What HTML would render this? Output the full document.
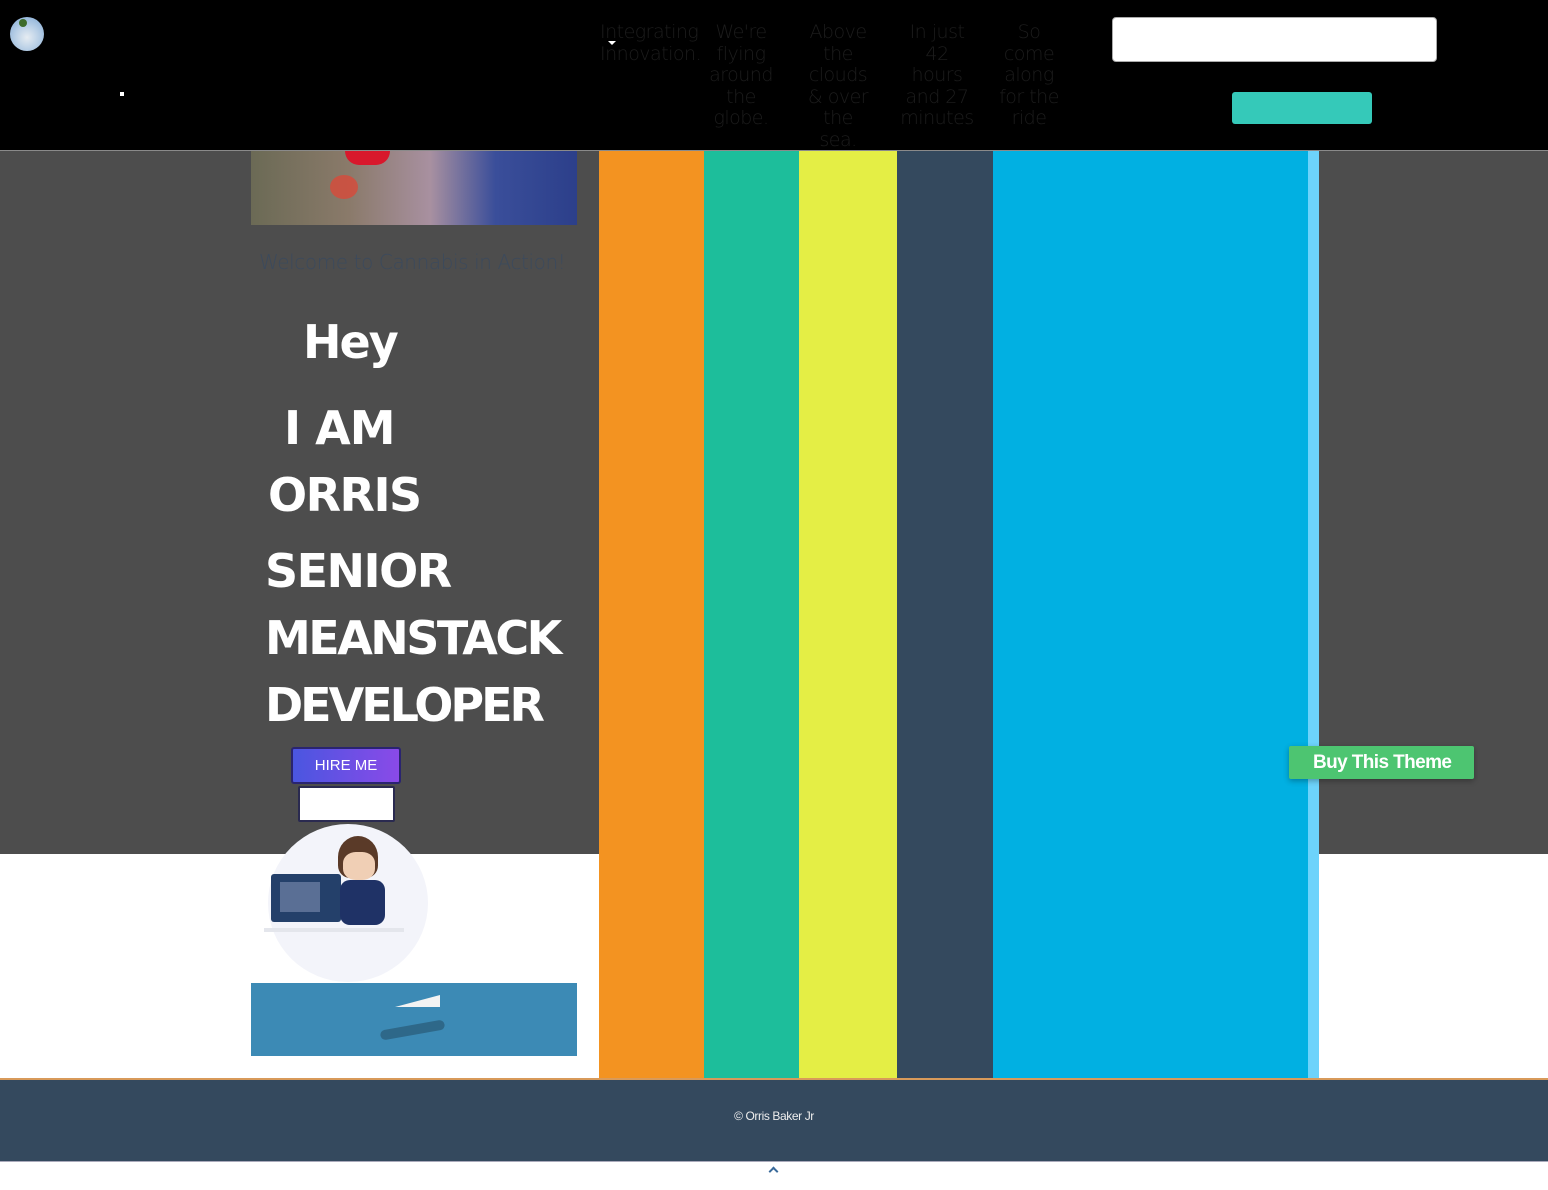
<!DOCTYPE html>
<html><head><meta charset="utf-8"><style>
*{margin:0;padding:0;box-sizing:border-box}
body{width:1548px;height:1190px;position:relative;overflow:hidden;background:#fff;font-family:"Liberation Sans",sans-serif}
.a{position:absolute}
.nav{font-family:"DejaVu Sans","Liberation Sans",sans-serif;font-weight:200;font-size:19px;line-height:21.5px;color:#1c1c1c;text-align:center;letter-spacing:-0.5px}
.big{font-family:"Comic Sans MS","DejaVu Sans","Liberation Sans",sans-serif;font-weight:bold;color:#fff;white-space:nowrap}
</style></head><body>
<div class="a" style="left:0;top:0;width:1548px;height:150px;background:#000"></div>
<div class="a" style="left:0;top:150px;width:1548px;height:1px;background:#8a8a8a"></div>
<div class="a" style="left:10px;top:17px;width:34px;height:34px;border-radius:50%;background:radial-gradient(circle at 50% 60%,#e6ecf2 0,#b8cfe6 45%,#7ea7d3 100%)"></div>
<div class="a" style="left:19px;top:19px;width:8px;height:8px;background:#3d6b2a;border-radius:50%"></div>
<div class="a" style="left:120px;top:92px;width:4px;height:4px;background:#fff"></div>
<div class="a nav" style="left:600px;top:22px;width:108px;text-align:left">Integrating Innovation.</div>
<div class="a" style="left:608px;top:41px;width:0;height:0;border-left:4px solid transparent;border-right:4px solid transparent;border-top:4px solid #fff"></div>
<div class="a nav" style="left:706px;top:22px;width:70px">We're flying around the globe.</div>
<div class="a nav" style="left:802px;top:22px;width:72px">Above the clouds &amp; over the sea.</div>
<div class="a nav" style="left:900px;top:22px;width:74px">In just<br>42<br>hours<br>and 27<br>minutes</div>
<div class="a nav" style="left:994px;top:22px;width:70px">So come along for the ride</div>
<div class="a" style="left:1112px;top:17px;width:325px;height:45px;background:#fff;border-radius:4px;border:1px solid #aaa"></div>
<div class="a" style="left:1232px;top:92px;width:140px;height:32px;background:#35c9b9;border-radius:3px"></div>

<div class="a" style="left:0;top:151px;width:1548px;height:703px;background:#4d4d4d"></div>
<div class="a" style="left:599px;top:151px;width:105px;height:927px;background:#f39321"></div>
<div class="a" style="left:704px;top:151px;width:95px;height:927px;background:#1dbe9b"></div>
<div class="a" style="left:799px;top:151px;width:98px;height:927px;background:#e4ee45"></div>
<div class="a" style="left:897px;top:151px;width:96px;height:927px;background:#34495e"></div>
<div class="a" style="left:993px;top:151px;width:315px;height:927px;background:#01b0e2"></div>
<div class="a" style="left:1308px;top:151px;width:11px;height:927px;background:#6dd3fb"></div>

<div class="a" style="left:251px;top:151px;width:326px;height:74px;background:linear-gradient(90deg,#6b6a55 0%,#8a7a6a 30%,#a890a0 55%,#3a4e9a 75%,#2c3f8a 100%)"></div>
<div class="a" style="left:345px;top:151px;width:45px;height:14px;background:#d8182c;border-radius:0 0 20px 20px"></div>
<div class="a" style="left:330px;top:175px;width:28px;height:24px;background:#d84a3a;border-radius:50%;opacity:.8"></div>
<div class="a" style="left:259px;top:250px;width:320px;font-size:20px;color:#3c4a5c;font-family:'DejaVu Sans',sans-serif;font-weight:200;white-space:nowrap;letter-spacing:-0.4px">Welcome to Cannabis in Action!</div>

<div class="a big" style="left:303px;top:315px;font-size:46px;letter-spacing:-2px">Hey</div>
<div class="a big" style="left:284px;top:401px;font-size:46px;letter-spacing:-1px">I AM</div>
<div class="a big" style="left:268px;top:468px;font-size:46px;letter-spacing:-1.5px">ORRIS</div>
<div class="a big" style="left:265px;top:544px;font-size:46px;letter-spacing:-1.5px">SENIOR</div>
<div class="a big" style="left:265px;top:611px;font-size:46px;letter-spacing:-2.5px">MEANSTACK</div>
<div class="a big" style="left:265px;top:678px;font-size:46px;letter-spacing:-3px">DEVELOPER</div>

<div class="a" style="left:291px;top:747px;width:110px;height:37px;background:linear-gradient(90deg,#4a56e0,#8a4ae8);border:2px solid #2a2470;border-radius:3px;color:#fff;font-size:15px;text-align:center;line-height:33px">HIRE ME</div>
<div class="a" style="left:298px;top:786px;width:97px;height:36px;background:#fff;border:2px solid #2a2a50;border-radius:2px"></div>

<div class="a" style="left:0;top:854px;width:599px;height:224px;background:#fff"></div>
<div class="a" style="left:1319px;top:854px;width:229px;height:224px;background:#fff"></div>
<div class="a" style="left:268px;top:824px;width:160px;height:158px;background:#f3f4fa;border-radius:50%"></div>
<div class="a" style="left:271px;top:874px;width:70px;height:48px;background:#24406a;border-radius:3px"></div>
<div class="a" style="left:280px;top:882px;width:40px;height:30px;background:#5a6f95"></div>
<div class="a" style="left:340px;top:880px;width:45px;height:45px;background:#1f3266;border-radius:10px"></div>
<div class="a" style="left:338px;top:836px;width:40px;height:42px;background:#5a3a28;border-radius:50% 50% 30% 30%"></div>
<div class="a" style="left:343px;top:852px;width:32px;height:28px;background:#f0cfb5;border-radius:40%"></div>
<div class="a" style="left:264px;top:928px;width:140px;height:4px;background:#e4e6ec"></div>
<div class="a" style="left:251px;top:983px;width:326px;height:73px;background:#3c8ab5"></div>
<div class="a" style="left:395px;top:995px;width:0;height:0;border-left:45px solid transparent;border-bottom:12px solid #f3f3f3"></div>
<div class="a" style="left:380px;top:1025px;width:65px;height:10px;background:#2e6889;border-radius:5px;transform:rotate(-10deg)"></div>

<div class="a" style="left:1289px;top:746px;width:185px;height:33px;background:#4dc571;border-radius:2px;color:#fff;font-weight:bold;font-size:19px;line-height:33px;padding-left:24px;letter-spacing:-0.6px;box-shadow:0 2px 6px rgba(0,0,0,.3)">Buy This Theme</div>

<div class="a" style="left:0;top:1078px;width:1548px;height:2px;background:#d89a5a"></div>
<div class="a" style="left:0;top:1080px;width:1548px;height:81px;background:#34495e"></div>
<div class="a" style="left:0;top:1109px;width:1548px;text-align:center;color:#eee;font-size:12px;letter-spacing:-0.4px">© Orris Baker Jr</div>
<div class="a" style="left:0;top:1161px;width:1548px;height:1px;background:#aab"></div>
<div class="a" style="left:770px;top:1168px;width:7px;height:7px;border-left:2px solid #3a6a9a;border-top:2px solid #3a6a9a;transform:rotate(45deg)"></div>
</body></html>
